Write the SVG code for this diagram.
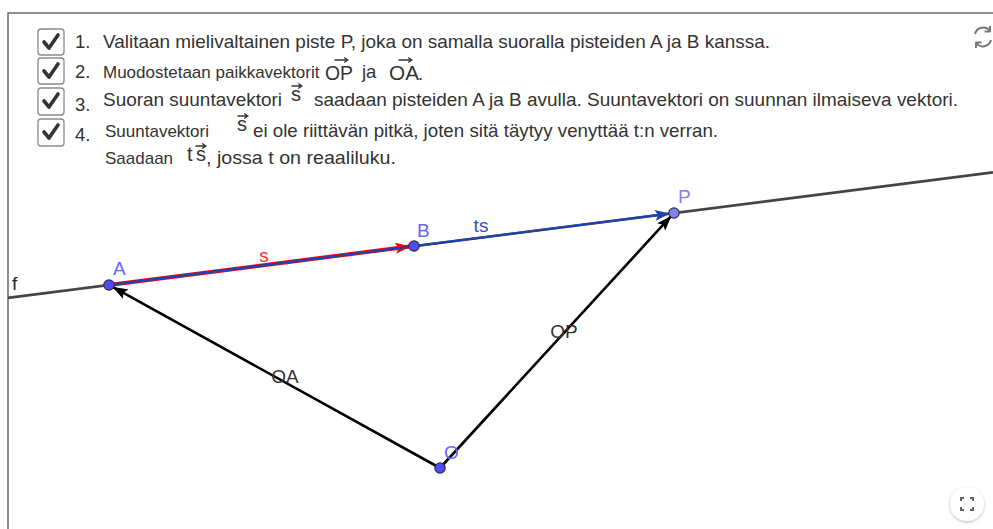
<svg xmlns="http://www.w3.org/2000/svg" width="993" height="529" viewBox="0 0 993 529">
<defs>
<style>
.t{font-family:"Liberation Sans",Arial,sans-serif;font-size:18.5px;fill:#333}
.s{font-family:"Liberation Sans",Arial,sans-serif;font-size:17px;fill:#333}
.m{font-family:"Liberation Sans",Arial,sans-serif;font-size:20px;fill:#333}
.box{fill:#fff;stroke:#8a8a8a;stroke-width:1.3}
.chk{fill:none;stroke:#333;stroke-width:3.6;stroke-linecap:round;stroke-linejoin:round}
.va{fill:none;stroke:#333;stroke-width:1.3;stroke-linecap:round;stroke-linejoin:round}
.pt{stroke:#333;stroke-width:1.2}
.lbl{font-family:"Liberation Sans",Arial,sans-serif;font-size:19px}
.vec{stroke:#000;stroke-width:2.6;fill:none}
</style>
<marker id="ahK" markerUnits="userSpaceOnUse" markerWidth="15" markerHeight="11" viewBox="0 0 15 11" refX="14" refY="5.5" orient="auto"><path d="M0,0 L15,5.5 L0,11 L3,5.5 z" fill="#000"/></marker>
<marker id="ahR" markerUnits="userSpaceOnUse" markerWidth="15" markerHeight="11" viewBox="0 0 15 11" refX="14" refY="5.5" orient="auto"><path d="M0,0 L15,5.5 L0,11 L3,5.5 z" fill="#ff0000"/></marker>
<marker id="ahB" markerUnits="userSpaceOnUse" markerWidth="15" markerHeight="11" viewBox="0 0 15 11" refX="14" refY="5.5" orient="auto"><path d="M0,0 L15,5.5 L0,11 L3,5.5 z" fill="#2142aa"/></marker>
<filter id="sh" x="-50%" y="-50%" width="200%" height="200%"><feDropShadow dx="0" dy="1" stdDeviation="1.5" flood-color="#000" flood-opacity="0.3"/></filter>
</defs>
<rect width="993" height="529" fill="#fff"/>
<!-- frame -->
<path d="M8,529 V13 H993" fill="none" stroke="#6b6b6b" stroke-width="1.5"/>

<!-- checklist -->
<g id="step1">
<rect class="box" x="38" y="29" width="26" height="26" rx="3"/>
<path class="chk" d="M44,42 L49,48 L58,35"/>
<text class="t" x="75" y="48">1.</text>
<text class="t" x="103" y="48" textLength="667" lengthAdjust="spacingAndGlyphs">Valitaan mielivaltainen piste P, joka on samalla suoralla pisteiden A ja B kanssa.</text>
</g>
<g id="step2">
<rect class="box" x="38" y="58" width="26" height="26" rx="3"/>
<path class="chk" d="M44,71 L49,77 L58,64"/>
<text class="t" x="75" y="78">2.</text>
<text class="s" x="103" y="78">Muodostetaan paikkavektorit</text>
<text class="m" x="325" y="80" textLength="28" lengthAdjust="spacingAndGlyphs">OP</text>
<path class="va" d="M335,60 H348 M344.5,57.8 L348,60 L344.5,62.2"/>
<text class="t" x="362" y="78">ja</text>
<text class="m" x="389" y="80" textLength="30" lengthAdjust="spacingAndGlyphs">OA</text>
<path class="va" d="M399,60 H412 M408.5,57.8 L412,60 L408.5,62.2"/>
<text class="t" x="418" y="80">.</text>
</g>
<g id="step3">
<rect class="box" x="38" y="88" width="26" height="27" rx="3"/>
<path class="chk" d="M44,101 L49,107 L58,94"/>
<text class="t" x="75" y="111">3.</text>
<text class="t" x="103" y="106" textLength="179" lengthAdjust="spacingAndGlyphs">Suoran suuntavektori</text>
<text class="m" x="291" y="101">s</text>
<path class="va" d="M292,86 H302 M298.5,83.8 L302,86 L298.5,88.2"/>
<text class="t" x="314" y="106" textLength="644" lengthAdjust="spacingAndGlyphs">saadaan pisteiden A ja B avulla. Suuntavektori on suunnan ilmaiseva vektori.</text>
</g>
<g id="step4">
<rect class="box" x="38" y="119" width="26" height="27" rx="3"/>
<path class="chk" d="M44,132 L49,138 L58,125"/>
<text class="t" x="75" y="141">4.</text>
<text class="s" x="105" y="137">Suuntavektori</text>
<text class="m" x="237" y="131">s</text>
<path class="va" d="M238,116 H248 M244.5,113.8 L248,116 L244.5,118.2"/>
<text class="t" x="253" y="137" textLength="465" lengthAdjust="spacingAndGlyphs">ei ole riittävän pitkä, joten sitä täytyy venyttää t:n verran.</text>
<text class="s" x="105" y="164">Saadaan</text>
<text class="m" x="187" y="161">t</text>
<text class="m" x="196" y="161">s</text>
<path class="va" d="M196,146 H206 M202.5,143.8 L206,146 L202.5,148.2"/>
<text class="t" x="206" y="164" textLength="190" lengthAdjust="spacingAndGlyphs">, jossa t on reaaliluku.</text>
</g>

<!-- line f -->
<g id="f">
<line x1="8" y1="297.9" x2="993" y2="172.4" stroke="#444" stroke-width="2.6"/>
<text class="lbl" x="12" y="290" fill="#222">f</text>
</g>

<!-- connectors / vectors -->
<g id="connectors">
<line x1="109" y1="285" x2="409.5" y2="246.5" stroke="#ff0000" stroke-width="4" marker-end="url(#ahR)"/>
<line x1="109" y1="285" x2="669" y2="213.6" stroke="#2142aa" stroke-width="2.4" marker-end="url(#ahB)"/>
<line class="vec" x1="440" y1="468" x2="113.5" y2="287.4" marker-end="url(#ahK)"/>
<line class="vec" x1="440" y1="468" x2="670.6" y2="216.7" marker-end="url(#ahK)"/>
<text class="lbl" x="264" y="262" fill="#ff2a2a" text-anchor="middle">s</text>
<text class="lbl" x="481" y="232" fill="#3352c4" text-anchor="middle">ts</text>
<text class="lbl" x="285" y="383" fill="#333" text-anchor="middle">OA</text>
<text class="lbl" x="564" y="338" fill="#333" text-anchor="middle">OP</text>
</g>

<!-- points -->
<g id="A">
<circle class="pt" cx="109" cy="285" r="5.2" fill="#4d4dff"/>
<text class="lbl" x="113" y="275" fill="#6666ff">A</text>
</g>
<g id="B">
<circle class="pt" cx="414" cy="246" r="5.2" fill="#4d4dff"/>
<text class="lbl" x="417" y="237" fill="#6666ff">B</text>
</g>
<g id="P">
<circle class="pt" cx="674" cy="213" r="5.2" fill="#8080ff"/>
<text class="lbl" x="678" y="203" fill="#8080ff">P</text>
</g>
<g id="O">
<circle class="pt" cx="440" cy="468" r="5.2" fill="#4d4dff"/>
<text class="lbl" x="444" y="459" fill="#6666ff">O</text>
</g>

<!-- refresh icon -->
<g id="refresh" fill="none" stroke="#777" stroke-width="2">
<path d="M975,34 A8.5,8.5 0 0 1 990,31"/>
<path d="M991,40 A8.5,8.5 0 0 1 976,43"/>
<path d="M990,26 V31.5 H984.5" stroke-linejoin="round"/>
<path d="M976,48 V42.5 H981.5" stroke-linejoin="round"/>
</g>

<!-- fullscreen button -->
<g id="fullscreen">
<circle cx="967" cy="504" r="17" fill="#fff" filter="url(#sh)"/>
<path d="M961,501 V498 H964 M970,498 H973 V501 M973,507 V510 H970 M964,510 H961 V507" fill="none" stroke="#666" stroke-width="2"/>
</g>
</svg>
